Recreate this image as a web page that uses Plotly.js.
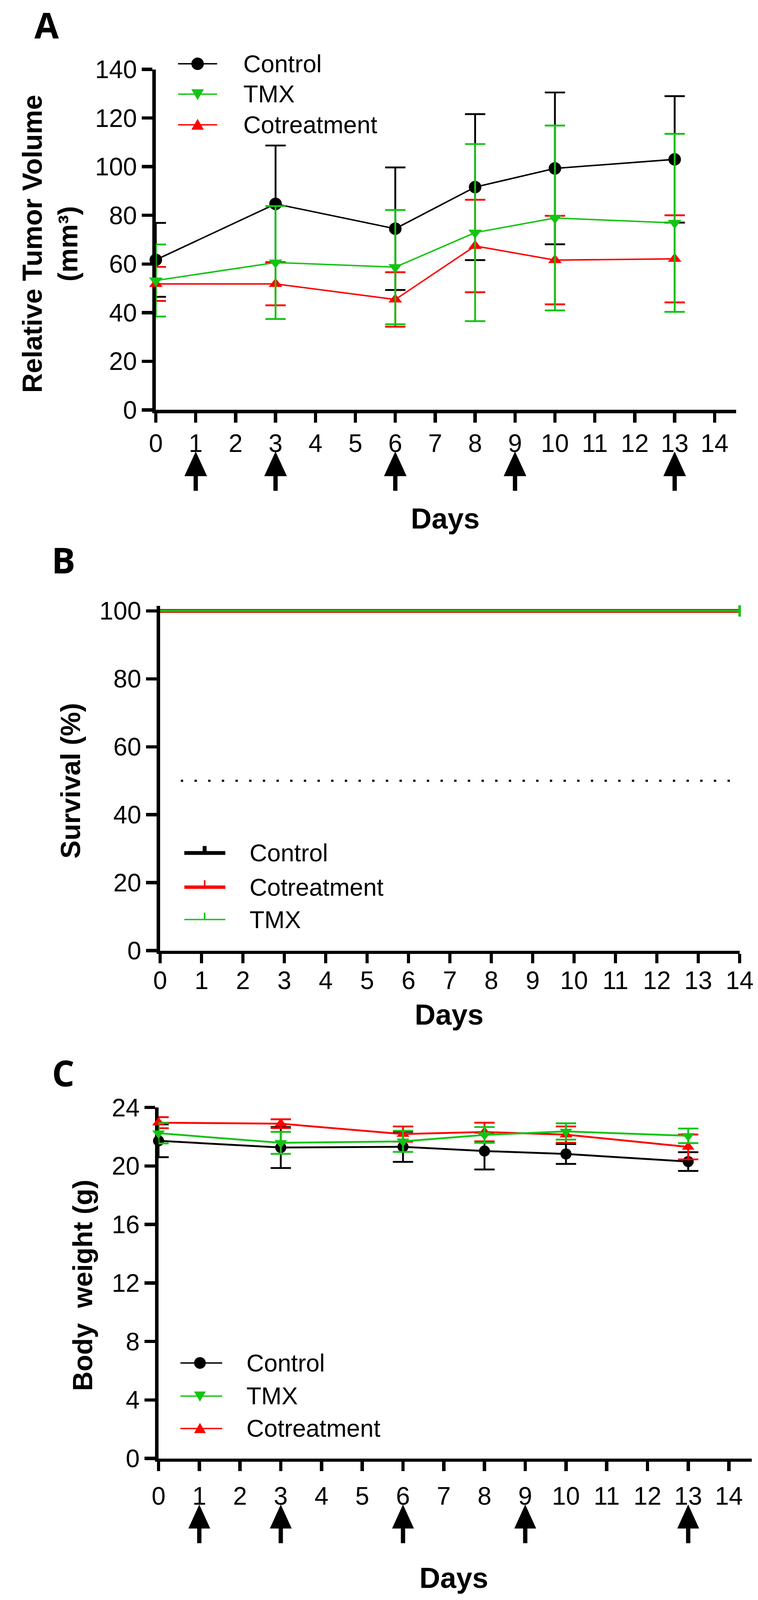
<!DOCTYPE html>
<html><head><meta charset="utf-8">
<script src="https://cdn.plot.ly/plotly-3.0.1.min.js"></script>
<style>html,body{margin:0;padding:0;background:#fff;overflow:hidden}</style>
</head><body>
<div id="chart"></div>
<script>
// ---------- data ----------
const days = [0, 3, 6, 8, 10, 13];
const doseDays = [1, 3, 6, 9, 13];
const dayTicks = [0,1,2,3,4,5,6,7,8,9,10,11,12,13,14];

// Panel A: relative tumour volume (mm3), mean and error
const controlVolume = [61.7, 84.7, 74.5, 91.6, 99.3, 103.0];
const controlVolumeErr = [15.2, 24.0, 25.2, 30.0, 31.2, 26.0];
const tmxVolume = [53.2, 60.6, 58.7, 72.9, 78.9, 76.9];
const tmxVolumeErr = [14.8, 23.2, 23.5, 36.4, 38.0, 36.6];
const coVolume = [51.8, 51.8, 45.4, 67.4, 61.6, 62.1];
const coVolumeErr = [7.0, 8.8, 11.2, 19.0, 18.2, 17.9];

// Panel B: survival (%)
const survivalDays = [0, 14];
const controlSurvival = [100, 100];
const coSurvival = [100, 100];
const tmxSurvival = [100, 100];
const medianSurvivalLine = 50;

// Panel C: body weight (g)
const controlWeight = [21.72, 21.26, 21.31, 21.02, 20.82, 20.30];
const controlWeightErr = [1.12, 1.40, 1.03, 1.26, 0.68, 0.64];
const tmxWeight = [22.24, 21.58, 21.68, 22.12, 22.36, 22.06];
const tmxWeightErr = [0.70, 0.75, 0.72, 0.54, 0.56, 0.50];
const coWeight = [22.96, 22.89, 22.18, 22.32, 22.14, 21.30];
const coWeightErr = [0.38, 0.30, 0.52, 0.64, 0.56, 0.85];

// ---------- geometry (reference is 1941 x 4590) ----------
const W = 1941, H = 4590;
const VW = window.innerWidth || W;
const VH = Math.min(window.innerHeight || H, H);
const sx = VW / W, sy = VH / H, sf = Math.sqrt(sx * sy);
const chartDiv = document.getElementById('chart');
chartDiv.style.width = VW + 'px';
chartDiv.style.height = VH + 'px';

const px = v => v / W;          // reference pixel -> paper fraction
const py = v => 1 - v / H;
const BLACK = '#000000', GREEN = '#14c414', RED = '#ff0000';
const FONT = 'Arial, "Liberation Sans", sans-serif';

function meanTrace(x, y, err, color, symbol, size, lw, xa, ya, name) {
  return {
    type: 'scatter', mode: 'lines+markers', x: x, y: y, name: name,
    xaxis: xa, yaxis: ya, showlegend: false, cliponaxis: false,
    line: {color: color, width: lw * sf},
    marker: {color: color, symbol: symbol, size: size * sf, line: {width: 0}},
    error_y: {type: 'data', array: err, visible: true, color: color, thickness: 5 * sf, width: 26 * sx}
  };
}

function axis(domain, range, anchor, isX, extra) {
  return Object.assign({
    domain: domain, range: range, anchor: anchor,
    showline: true, linewidth: 9 * sf, linecolor: BLACK, mirror: false,
    ticks: 'outside', ticklen: 27 * (isX ? sy : sx), tickwidth: 9 * sf, tickcolor: BLACK,
    tickfont: {family: FONT, size: 68 * sf, color: BLACK},
    showgrid: false, zeroline: false, fixedrange: true, layer: 'below traces'
  }, extra || {});
}

const traces = [
  meanTrace(days, controlVolume, controlVolumeErr, BLACK, 'circle', 34, 4, 'x', 'y', 'Control'),
  meanTrace(days, coVolume, coVolumeErr, RED, 'triangle-up', 32, 4, 'x', 'y', 'Cotreatment'),
  meanTrace(days, tmxVolume, tmxVolumeErr, GREEN, 'triangle-down', 32, 4, 'x', 'y', 'TMX'),

  {type: 'scatter', mode: 'lines', x: survivalDays, y: controlSurvival, xaxis: 'x2', yaxis: 'y2',
   showlegend: false, cliponaxis: false, line: {color: BLACK, width: 10 * sf}, name: 'Control'},
  {type: 'scatter', mode: 'lines', x: survivalDays, y: coSurvival, xaxis: 'x2', yaxis: 'y2',
   showlegend: false, cliponaxis: false, line: {color: RED, width: 10 * sf}, name: 'Cotreatment'},
  {type: 'scatter', mode: 'lines', x: survivalDays, y: tmxSurvival, xaxis: 'x2', yaxis: 'y2',
   showlegend: false, cliponaxis: false, line: {color: GREEN, width: 6 * sf}, name: 'TMX'},
  {type: 'scatter', mode: 'markers', x: survivalDays.slice(-1), y: tmxSurvival.slice(-1), xaxis: 'x2', yaxis: 'y2',
   showlegend: false, cliponaxis: false,
   marker: {symbol: 'line-ns-open', color: GREEN, size: 22 * sf, line: {color: GREEN, width: 7 * sf}}, name: 'TMX censored'},

  meanTrace(days, controlWeight, controlWeightErr, BLACK, 'circle', 30, 5, 'x3', 'y3', 'Control'),
  meanTrace(days, coWeight, coWeightErr, RED, 'triangle-up', 30, 5, 'x3', 'y3', 'Cotreatment'),
  meanTrace(days, tmxWeight, tmxWeightErr, GREEN, 'triangle-down', 30, 5, 'x3', 'y3', 'TMX')
];

const layout = {
  width: VW, height: VH, margin: {l: 0, r: 0, t: 0, b: 0},
  paper_bgcolor: '#ffffff', plot_bgcolor: '#ffffff', showlegend: false,
  font: {family: FONT, color: BLACK},
  xaxis: axis([px(399), px(1885)], [0, 14.54], 'y', true, {tickmode: 'array', tickvals: dayTicks, ticklabelstandoff: Math.round(-2 * sy)}),
  yaxis: axis([py(1176), py(199)], [0, 140], 'x', false, {tickmode: 'linear', tick0: 0, dtick: 20}),
  xaxis2: axis([px(410), px(1894)], [0, 14], 'y2', true, {tickmode: 'array', tickvals: dayTicks, ticklabelstandoff: Math.round(-12 * sy)}),
  yaxis2: axis([py(2727), py(1738)], [0, 101.5], 'x2', false, {tickmode: 'linear', tick0: 0, dtick: 20}),
  xaxis3: axis([px(406), px(1925)], [0, 14.56], 'y3', true, {tickmode: 'array', tickvals: dayTicks, ticklabelstandoff: Math.round(10 * sy)}),
  yaxis3: axis([py(4184), py(3177)], [0, 24], 'x3', false, {tickmode: 'linear', tick0: 0, dtick: 4}),
  shapes: [], annotations: []
};

// median line in panel B
layout.shapes.push({type: 'line', xref: 'x2', yref: 'y2', x0: 0.5, x1: 13.8,
  y0: medianSurvivalLine, y1: medianSurvivalLine, layer: 'below',
  line: {color: BLACK, width: 6 * sf, dash: (6 * sx).toFixed(1) + 'px,' + (29 * sx).toFixed(1) + 'px'}});

// dose arrows (panels A and C): triangle head + shaft, x from the day axis
function addArrows(xref, pxPerDay, tipY, baseY, tailY, headW) {
  const hw = headW / 2 / pxPerDay;
  doseDays.forEach(d => {
    layout.shapes.push({type: 'path', xref: xref, yref: 'paper',
      path: 'M' + (d - hw) + ',' + py(baseY) + ' L' + (d + hw) + ',' + py(baseY) + ' L' + d + ',' + py(tipY) + ' Z',
      fillcolor: BLACK, line: {width: 0}});
    layout.shapes.push({type: 'line', xref: xref, yref: 'paper',
      x0: d, x1: d, y0: py(baseY - 2), y1: py(tailY), line: {color: BLACK, width: 11 * sx}});
  });
}
addArrows('x', (1885 - 399) / 14.54, 1295, 1366, 1408, 58);
addArrows('x3', (1925 - 406) / 14.56, 4316, 4385, 4427, 56);

// text helper
function txt(text, x, y, size, bold, extra) {
  layout.annotations.push(Object.assign({
    text: bold ? '<b>' + text + '</b>' : text, x: px(x), y: py(y), xref: 'paper', yref: 'paper',
    showarrow: false, xanchor: 'center', yanchor: 'middle',
    font: {family: FONT, size: size, color: BLACK}
  }, extra || {}));
}

// panel letters
const LETTER_FONT = '"Open Sans", "Noto Sans", sans-serif';
['A', 'B', 'C'].forEach((L, i) => {
  const pos = [[119, 72], [162, 1606], [162, 3077]][i];
  txt(L, pos[0], pos[1], 96 * sf, true, {font: {family: LETTER_FONT, size: 96 * sf, color: BLACK}});
});

// axis titles
txt('Relative Tumor Volume<br>(mm³)', 128, 700, 78 * sy, true, {textangle: -90});
txt('Days', 1140, 1488, 78 * sf, true);
txt('Survival (%)', 181, 2240, 78 * sy, true, {textangle: -90});
txt('Days', 1150, 2911, 78 * sf, true);
txt('Body\u00a0 weight (g)', 212, 3688, 78 * sy, true, {textangle: -90});
txt('Days', 1162, 4527, 78 * sf, true);

// custom legends
function marker(symbol, cx, cy, s, color) {
  const hx = s / 2, hy = s / 2 * (sx / sy);
  if (symbol === 'circle') {
    layout.shapes.push({type: 'circle', xref: 'paper', yref: 'paper',
      x0: px(cx - hx), x1: px(cx + hx), y0: py(cy + hy), y1: py(cy - hy),
      fillcolor: color, line: {width: 0}});
  } else {
    const h = s * 0.87 * (sx / sy), dir = symbol === 'triangle-up' ? -1 : 1;
    const tipY = cy + dir * h * 0.55, baseY = cy - dir * h * 0.45;
    const path = 'M' + px(cx - hx) + ',' + py(baseY) + ' L' + px(cx + hx) + ',' + py(baseY) +
      ' L' + px(cx) + ',' + py(tipY) + ' Z';
    layout.shapes.push({type: 'path', xref: 'paper', yref: 'paper', path: path,
      fillcolor: color, line: {width: 0}});
  }
}
function hline(x0, x1, y, color, w) {
  layout.shapes.push({type: 'line', xref: 'paper', yref: 'paper',
    x0: px(x0), x1: px(x1), y0: py(y), y1: py(y), line: {color: color, width: w * sy}});
}

const legendNamesA = ['Control', 'TMX', 'Cotreatment'];
const legendColorsA = [BLACK, GREEN, RED];
const legendSymbolsA = ['circle', 'triangle-down', 'triangle-up'];
[183, 270, 358].forEach((y, i) => {
  hline(456, 556, y, legendColorsA[i], 4);
  marker(legendSymbolsA[i], 506, y, 32, legendColorsA[i]);
  txt(legendNamesA[i], 621, y, 66 * sf, false, {xanchor: 'left'});
});
[3910, 4005, 4098].forEach((y, i) => {
  hline(462, 569, y, legendColorsA[i], 4);
  marker(legendSymbolsA[i], 512, y, 30, legendColorsA[i]);
  txt(legendNamesA[i], 629, y, 66 * sf, false, {xanchor: 'left'});
});

const legendNamesB = ['Control', 'Cotreatment', 'TMX'];
const legendColorsB = [BLACK, RED, GREEN];
const legendWidthsB = [11, 10, 4];
const legendTickW = [10, 4, 4];
[2447, 2545, 2638].forEach((y, i) => {
  hline(472, 577, y, legendColorsB[i], legendWidthsB[i]);
  layout.shapes.push({type: 'line', xref: 'paper', yref: 'paper',
    x0: px(524), x1: px(524), y0: py(y), y1: py(y - 20), line: {color: legendColorsB[i], width: legendTickW[i] * sx}});
  txt(legendNamesB[i], 637, y, 66 * sf, false, {xanchor: 'left'});
});

Plotly.newPlot('chart', traces, layout, {staticPlot: true, displayModeBar: false});
</script>
</body></html>
